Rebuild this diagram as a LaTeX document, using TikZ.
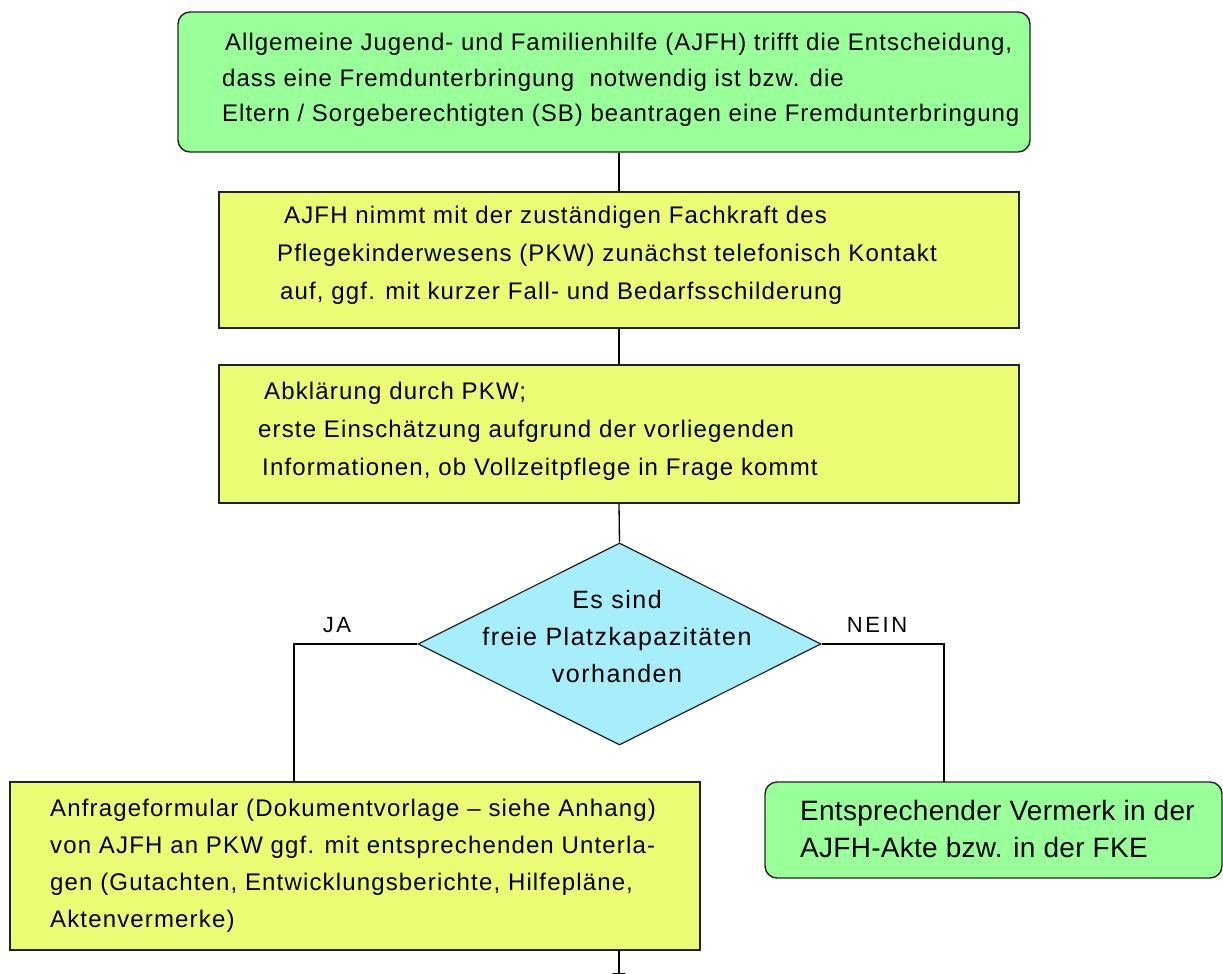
\documentclass[tikz,border=0pt]{standalone}
\usepackage{fontspec}
\setmainfont{Liberation Sans}
\newfontfamily\boxfont[LetterSpace=4.8]{Liberation Sans}
\newfontfamily\topfont[LetterSpace=4.2]{Liberation Sans}
\newfontfamily\rbfont[LetterSpace=1]{Liberation Sans}
\newfontfamily\dfont[LetterSpace=6]{Liberation Sans}
\newfontfamily\lblfont[LetterSpace=12]{Liberation Sans}
\usetikzlibrary{shapes.geometric,arrows.meta,calc}
\definecolor{boxgreen}{HTML}{99FF99}
\definecolor{boxyellow}{HTML}{EBFB74}
\definecolor{boxcyan}{HTML}{A6EEFC}
\definecolor{edge}{HTML}{222222}
\begin{document}
\begin{tikzpicture}[x=1pt,y=-1pt,
  greenbox/.style={draw=edge,line width=1.4pt,fill=boxgreen,rounded corners=12pt,inner sep=0pt},
  yellowbox/.style={draw=edge,line width=1.4pt,fill=boxyellow,inner sep=0pt},
  decision/.style={draw=edge,line width=1.2pt,fill=boxcyan,diamond,inner sep=0pt},
  txt/.style={font=\boxfont\fontsize{24}{38}\selectfont,align=left,inner sep=0pt,anchor=west},
  ctxt/.style={font=\dfont\fontsize{25}{37}\selectfont,align=center,inner sep=0pt},
  lbl/.style={font=\lblfont\fontsize{22}{25}\selectfont,inner sep=0pt},
  conn/.style={draw=black,line width=1.3pt}]
\useasboundingbox (0,0) rectangle (1223,974);
\fill[white] (0,0) rectangle (1223,974);

% boxes
\node[greenbox,minimum width=852pt,minimum height=140pt] (b1) at (604,82) {};
\node[yellowbox,minimum width=800pt,minimum height=136pt] (b2) at (619,260) {};
\node[yellowbox,minimum width=800pt,minimum height=138pt] (b3) at (619,434) {};
\node[decision,minimum width=403pt,minimum height=202pt] (d) at (619.5,644) {};
\node[yellowbox,minimum width=690pt,minimum height=168pt] (lb) at (355,866) {};
\node[greenbox,minimum width=457pt,minimum height=96pt] (rb) at (993.5,830) {};

% texts
\node[txt,font=\topfont\fontsize{24}{35.5}\selectfont] (t1) at (222,80) {\hspace*{3pt}Allgemeine Jugend- und Familienhilfe (AJFH) trifft die Entscheidung,\\
dass eine Fremdunterbringung\ \ notwendig ist bzw. die\\
Eltern / Sorgeberechtigten (SB) beantragen eine Fremdunterbringung};
\node[txt] (t2) at (277,255) {\hspace*{7pt}AJFH nimmt mit der zuständigen Fachkraft des\\
Pflegekinderwesens (PKW) zunächst telefonisch Kontakt\\
\hspace*{3pt}auf, ggf. mit kurzer Fall- und Bedarfsschilderung};
\node[txt] (t3) at (258,431) {\hspace*{6pt}Abklärung durch PKW;\\
erste Einschätzung aufgrund der vorliegenden\\
\hspace*{4pt}Informationen, ob Vollzeitpflege in Frage kommt};
\node[ctxt] (td) at (617,637) {Es sind\\freie Platzkapazitäten\\vorhanden};
\node[txt,font=\boxfont\fontsize{24}{37}\selectfont] (t4) at (50,866) {Anfrageformular (Dokumentvorlage – siehe Anhang)\\
von AJFH an PKW ggf. mit entsprechenden Unterla-\\
gen (Gutachten, Entwicklungsberichte, Hilfepläne,\\
Aktenvermerke)};
\node[txt,font=\rbfont\fontsize{28}{37}\selectfont] (t5) at (800,829) {Entsprechender Vermerk in der\\
AJFH-Akte bzw. in der FKE};

% labels
\node[lbl] (ja) at (337,625) {JA};
\node[lbl] (nein) at (877,625) {NEIN};

% connector end points
\coordinate (jx) at (294,782);
\coordinate (nx) at (944,782);
\coordinate (a0) at (619,950);
\coordinate (a1) at (619,984);

% connectors
\draw[conn] (b1.south -| 619,0) -- (b2.north);
\draw[conn] (b2.south) -- (b3.north);
\draw[conn] (b3.south) -- (d.north);
\draw[conn] (d.west) -| (jx);
\draw[conn] (d.east) -| (nx);
\draw[conn,-{Triangle[width=13pt,length=11pt]}] (a0) -- (a1);
\end{tikzpicture}
\end{document}
